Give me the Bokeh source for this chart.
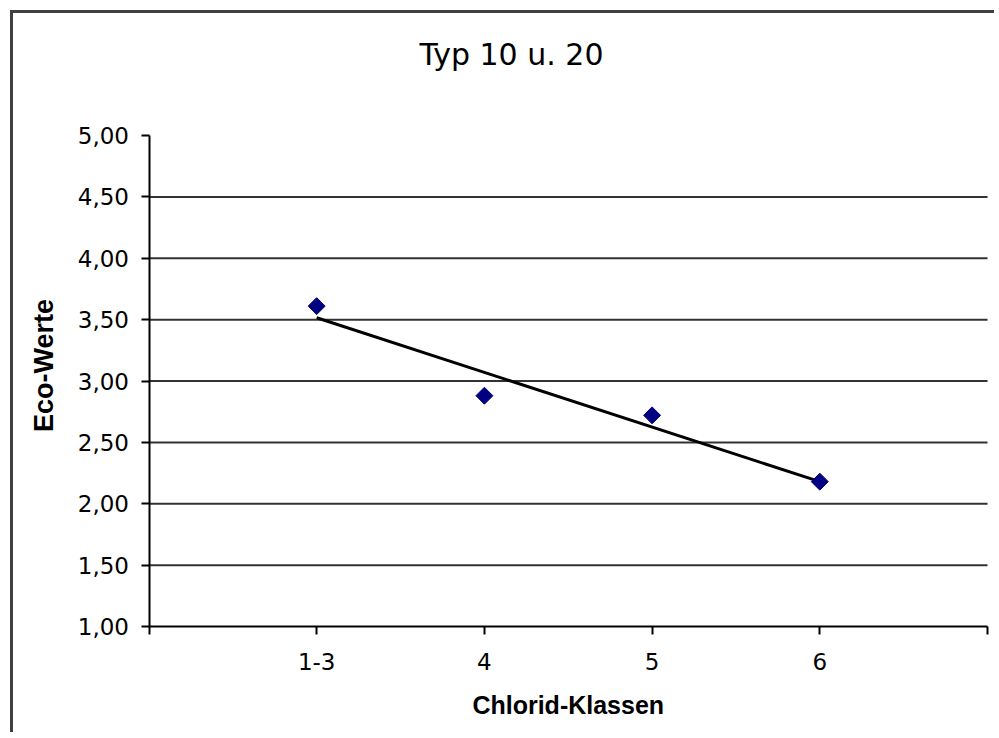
import numpy as np
from bokeh.plotting import figure
from bokeh.models import Range1d, FixedTicker, Label
from bokeh.embed import file_html
from bokeh.resources import INLINE

# ---- data ----
title_text = "Typ 10 u. 20"
x_title = "Chlorid-Klassen"
y_title = "Eco-Werte"
categories = ["1-3", "4", "5", "6"]
eco_values = [3.61, 2.88, 2.72, 2.18]
y_ticks = [1.0, 1.5, 2.0, 2.5, 3.0, 3.5, 4.0, 4.5, 5.0]
y_tick_labels = ["1,00", "1,50", "2,00", "2,50", "3,00", "3,50", "4,00", "4,50", "5,00"]
grid_values = [1.5, 2.0, 2.5, 3.0, 3.5, 4.0, 4.5]

x_pos = list(range(1, len(categories) + 1))
x_ticks = list(range(0, len(categories) + 2))
x_tick_labels = {t: "" for t in x_ticks}
for xp, c in zip(x_pos, categories):
    x_tick_labels[xp] = c
X_MIN, X_MAX = x_ticks[0], x_ticks[-1]
Y_MIN, Y_MAX = y_ticks[0], y_ticks[-1]

# linear trend (least squares)
slope, intercept = np.polyfit(x_pos, eco_values, 1)
trend_x = [x_pos[0], x_pos[-1]]
trend_y = [slope * xv + intercept for xv in trend_x]

# ---- layout geometry (page pixels) ----
W, H = 984, 722
CANVAS_X0, CANVAS_Y0 = 13, 13          # canvas origin on the page
AX_LEFT, AX_RIGHT = 148.5, 987.0       # x = X_MIN / X_MAX
AX_TOP, AX_BOTTOM = 135.0, 626.0       # y = Y_MAX / Y_MIN
ppx = (AX_RIGHT - AX_LEFT) / (X_MAX - X_MIN)
ppy = (AX_BOTTOM - AX_TOP) / (Y_MAX - Y_MIN)
x_start = X_MIN - (AX_LEFT - CANVAS_X0) / ppx
x_end = X_MAX + (CANVAS_X0 + W - AX_RIGHT) / ppx
y_end = Y_MAX + (AX_TOP - CANVAS_Y0) / ppy
y_start = Y_MIN - (CANVAS_Y0 + H - AX_BOTTOM) / ppy

def px_to_x(px):
    return X_MIN + (px - AX_LEFT) / ppx

def py_to_y(py):
    return Y_MIN + (AX_BOTTOM - py) / ppy

p = figure(width=W, height=H, output_backend="svg", toolbar_location=None,
           x_range=Range1d(x_start, x_end), y_range=Range1d(y_start, y_end),
           min_border=0)
p.styles = {"border-left": "3px solid #404040", "border-top": "3px solid #404040",
            "margin-left": "10px", "margin-top": "10px"}
p.outline_line_color = None
p.background_fill_color = "white"
p.border_fill_color = "white"

# axes drawn inside the frame at fixed locations
p.xaxis.fixed_location = Y_MIN
p.yaxis.fixed_location = X_MIN
p.xaxis.bounds = (X_MIN, X_MAX)
p.yaxis.bounds = (Y_MIN, Y_MAX)
p.xaxis.ticker = FixedTicker(ticks=x_ticks)
p.xaxis.major_label_overrides = x_tick_labels
p.yaxis.ticker = FixedTicker(ticks=y_ticks)
p.yaxis.major_label_overrides = dict(zip(y_ticks, y_tick_labels))
for ax in (p.xaxis, p.yaxis):
    ax.axis_line_color = "black"
    ax.axis_line_width = 2
    ax.major_tick_line_color = "black"
    ax.major_tick_line_width = 2
    ax.major_tick_in = 0
    ax.major_tick_out = 8
    ax.minor_tick_line_color = None
    ax.major_label_text_font = "DejaVu Sans"
    ax.major_label_text_font_size = "23px"
    ax.major_label_text_color = "black"
p.yaxis.major_label_standoff = 12
p.xaxis.major_label_standoff = 18

# grid lines (only across the plot area)
p.xgrid.grid_line_color = None
p.ygrid.grid_line_color = None
p.segment(x0=[X_MIN] * len(grid_values), y0=grid_values,
          x1=[X_MAX] * len(grid_values), y1=grid_values,
          line_color="#333333", line_width=2)

# trend line and points
p.line(trend_x, trend_y, line_color="black", line_width=3)
p.scatter(x_pos, eco_values, marker="square", angle=np.pi / 4, size=12,
          fill_color="#000080", line_color="#000080")

# titles
p.add_layout(Label(x=px_to_x(511), y=py_to_y(53.5), text=title_text,
                   text_align="center", text_baseline="middle",
                   text_font="DejaVu Sans", text_font_size="30px", text_color="black"))
p.add_layout(Label(x=(X_MIN + X_MAX) / 2, y=py_to_y(704), text=x_title,
                   text_align="center", text_baseline="middle",
                   text_font="Liberation Sans", text_font_style="bold",
                   text_font_size="25px", text_color="black"))
p.add_layout(Label(x=px_to_x(43), y=py_to_y(365), text=y_title, angle=np.pi / 2,
                   text_align="center", text_baseline="middle",
                   text_font="Liberation Sans", text_font_style="bold",
                   text_font_size="27px", text_color="black"))

open("out.html", "w").write(file_html(p, INLINE))
